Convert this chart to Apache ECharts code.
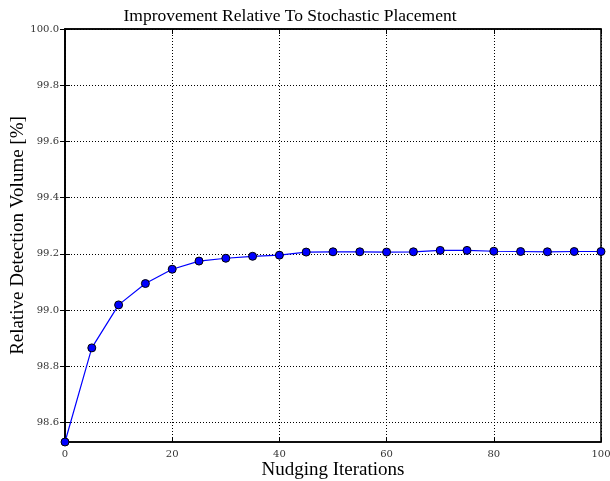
<!DOCTYPE html>
<html>
<head>
<meta charset="utf-8">
<script src="https://cdn.jsdelivr.net/npm/echarts@6/dist/echarts.min.js"></script>
<style>html,body{margin:0;padding:0;background:#fff;}#c{width:610px;height:481px;}</style>
</head>
<body>
<div id="c"></div>
<script>
var iterations = [0,5,10,15,20,25,30,35,40,45,50,55,60,65,70,75,80,85,90,95,100];
var volume = [98.53,98.865,99.018,99.094,99.145,99.174,99.184,99.191,99.195,99.206,99.207,99.207,99.206,99.207,99.212,99.212,99.209,99.208,99.207,99.208,99.208];
var xTicks = [0,20,40,60,80,100];
var yTicks = [98.6,98.8,99.0,99.2,99.4,99.6,99.8,100.0];

var FONT = '"DejaVu Serif", serif';
var TFONT = '"Liberation Serif", serif';
var chart = echarts.init(document.getElementById('c'));
var dots = {show:true, lineStyle:{color:'#000', width:1, type:[1,2]}};
var tick = {show:true, inside:true, length:5, lineStyle:{color:'#000', width:1}};
var line = {show:true, lineStyle:{color:'#000', width:1.5}};
chart.setOption({
  animation:false,
  title:{text:'Improvement Relative To Stochastic Placement', left:285, textAlign:'center', top:2,
    textStyle:{fontFamily:TFONT, fontWeight:'normal', fontSize:17.5, color:'#000'}},
  grid:{left:65, right:9, top:29, bottom:39, show:true, borderColor:'#000', borderWidth:1.5, outerBoundsMode:'none', containLabel:false},
  xAxis:[{
    type:'value', min:0, max:100, interval:20,
    name:'Nudging Iterations', nameLocation:'middle', nameGap:19, nameMoveOverlap:false,
    nameTextStyle:{fontFamily:TFONT, fontSize:19, color:'#000'},
    axisLine:line, axisTick:tick, splitLine:dots,
    axisLabel:{fontFamily:FONT, fontSize:10, color:'#333', margin:7, formatter:function(v){return xTicks.indexOf(v)>=0?String(v):'';}}
  },{
    type:'value', min:0, max:100, interval:20, position:'top',
    axisLine:line, axisTick:tick, splitLine:{show:false}, axisLabel:{show:false}
  }],
  yAxis:[{
    type:'value', min:98.53, max:100.0,
    name:'Relative Detection Volume [%]', nameLocation:'middle', nameGap:37, nameMoveOverlap:false,
    nameTextStyle:{fontFamily:TFONT, fontSize:19, color:'#000'},
    axisLine:line,
    axisLabel:{fontFamily:FONT, fontSize:10, color:'#333', margin:6,
      customValues: yTicks, formatter:function(v){return v.toFixed(1);}},
    axisTick:{show:true, inside:true, length:5, lineStyle:{color:'#000', width:1}, customValues: yTicks},
    splitLine:dots
  },{
    type:'value', min:98.53, max:100.0, position:'right',
    axisLine:line, axisTick:{show:true, inside:true, length:5, lineStyle:{color:'#000', width:1}, customValues: yTicks},
    splitLine:{show:false}, axisLabel:{show:false}
  }],
  series:[{
    type:'line', data:iterations.map(function(x,i){return [x, volume[i]];}),
    symbol:'circle', symbolSize:8,
    lineStyle:{color:'#0000ff', width:1.2},
    itemStyle:{color:'#0000ff', borderColor:'#000', borderWidth:1},
    clip:true, z:5
  }]
});
</script>
</body>
</html>
